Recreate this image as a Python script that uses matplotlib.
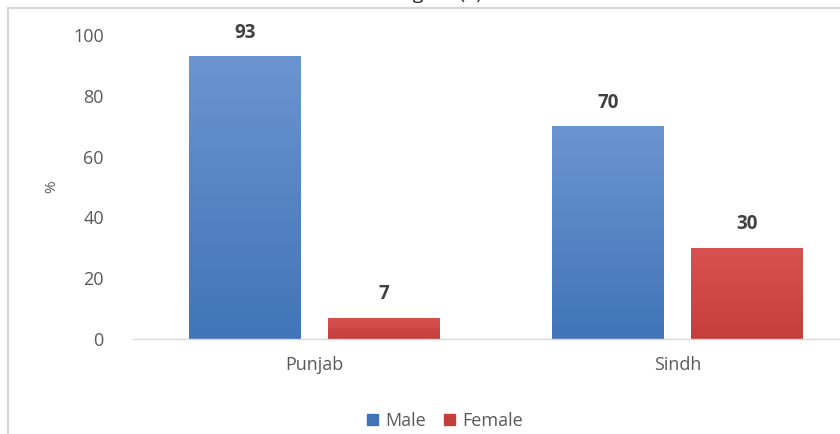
import numpy as np
import matplotlib
matplotlib.use("Agg")
import matplotlib.pyplot as plt
from matplotlib.lines import Line2D
from matplotlib.colors import LinearSegmentedColormap

# Share of respondents by gender in each province (%)
provinces = ["Punjab", "Sindh"]
series_names = ["Male", "Female"]
male = [93, 70]
female = [7, 30]
y_ticks = [0, 20, 40, 60, 80, 100]

plt.rcParams["font.family"] = ["Open Sans", "DejaVu Sans"]

W, H = 840, 434
fig = plt.figure(figsize=(W / 100, H / 100), dpi=100)
fig.patch.set_facecolor("white")

# plot area in pixel terms: left edge 133, baseline 339, top (100%) at 35
left, right, top, bottom = 133, 859, 35, 339
ax = fig.add_axes([left / W, 1 - bottom / H, (right - left) / W, (bottom - top) / H])
ax.set_xlim(-0.5, len(provinces) - 0.5)
ax.set_ylim(0, 100)
ax.set_clip_on(False)

bar_w = 0.307
offset = 0.192
x = np.arange(len(provinces))

# (bottom, top) shades of each series' gradient fill
colors = {
    "Male": ("#4174b9", "#6a95d0"),
    "Female": ("#c43f3b", "#d8534f"),
}

for name, vals, sign in [("Male", male, -1), ("Female", female, 1)]:
    bars = ax.bar(x + sign * offset, vals, width=bar_w, color=colors[name][0],
                  edgecolor="none", zorder=2, label=name)
    cmap = LinearSegmentedColormap.from_list(name, [colors[name][0], colors[name][1]])
    for b, v in zip(bars, vals):
        x0 = b.get_x()
        grad = np.linspace(0, 1, 256).reshape(-1, 1)
        im = ax.imshow(grad, extent=(x0, x0 + b.get_width(), 0, v), origin="lower",
                       aspect="auto", cmap=cmap, zorder=3)
        im.set_clip_path(b)
        ax.text(b.get_x() + b.get_width() / 2, v + 4.5, f"{v}", ha="center",
                va="bottom", fontsize=13.5, fontweight="bold", color="#404040", zorder=4)

ax.set_aspect("auto")
ax.set_xlim(-0.5, len(provinces) - 0.5)
ax.set_ylim(0, 100)

for s in ["top", "right", "left"]:
    ax.spines[s].set_visible(False)
ax.spines["bottom"].set_color("#d9d9d9")
ax.spines["bottom"].set_linewidth(1.0)
ax.spines["bottom"].set_zorder(5)

ax.set_yticks(y_ticks)
ax.set_yticklabels([str(t) for t in y_ticks])
ax.tick_params(axis="y", length=0, pad=21, labelsize=13, labelcolor="#595959")
ax.set_xticks(x)
ax.set_xticklabels(provinces)
ax.tick_params(axis="x", length=0, pad=12, labelsize=13, labelcolor="#595959")

ax.set_ylabel("%", fontsize=11, color="#595959")
ax.yaxis.set_label_coords((59 - left) / (right - left), (bottom - 187) / (bottom - top))

handles = [plt.Rectangle((0, 0), 1, 1, color=colors[n][0]) for n in series_names]
fig.legend(handles, series_names, loc="center", bbox_to_anchor=(445 / W, 1 - 421 / H),
           ncol=2, frameon=False, fontsize=13, handlelength=0.6, handleheight=0.6,
           handletextpad=0.4, columnspacing=1.0, labelcolor="#595959")

# frame around the chart panel
fig.add_artist(Line2D([8 / W, 8 / W], [0, 1 - 8 / H], transform=fig.transFigure,
                      color="#d6d6d6", lw=1.5))
fig.add_artist(Line2D([8 / W, 1], [1 - 8 / H, 1 - 8 / H], transform=fig.transFigure,
                      color="#d6d6d6", lw=1.5))

# caption sitting above the panel
fig.text(440 / W, 1 + 1.0 / H, "Figure (4)", ha="center", va="baseline",
         fontsize=14, color="#222222")

fig.savefig("out.png", dpi=100, facecolor="white")
